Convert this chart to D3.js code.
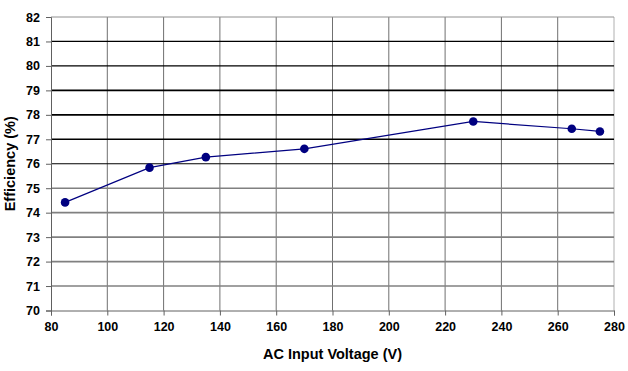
<!DOCTYPE html>
<html>
<head>
  <script src="https://d3js.org/d3.v7.min.js"></script>
  <style>
    body { margin: 0; background: #fff; }
    text { font-family: "Liberation Sans", Arial, sans-serif; font-weight: bold; }
  </style>
</head>
<body>
<script type="text/javascript">
  var voltage = [85, 115, 135, 170, 230, 265, 275];
  var efficiency = [74.42, 75.84, 76.27, 76.61, 77.73, 77.43, 77.32];
  var xTicks = [80, 100, 120, 140, 160, 180, 200, 220, 240, 260, 280];
  var yTicks = [70, 71, 72, 73, 74, 75, 76, 77, 78, 79, 80, 81, 82];

  var w = 628, h = 371;
  var padLeft = 51, padRight = 614, padTop = 17, padBottom = 310.5;

  var svg = d3.select("body").append("svg")
    .attr("width", w)
    .attr("height", h);

  var x = d3.scaleLinear().domain([80, 280]).range([padLeft, padRight]);
  var y = d3.scaleLinear().domain([70, 82]).range([padBottom, padTop]);

  // vertical grid
  svg.selectAll(".vgrid")
    .data(xTicks.slice(1))
    .enter()
    .append("line")
    .attr("x1", function(d){ return x(d); })
    .attr("x2", function(d){ return x(d); })
    .attr("y1", padTop)
    .attr("y2", padBottom)
    .attr("stroke", function(d){ return d == 280 ? "#b0b0b0" : "#707070"; })
    .attr("stroke-width", 1);

  // horizontal grid
  svg.selectAll(".hgrid")
    .data(yTicks.slice(1))
    .enter()
    .append("line")
    .attr("x1", padLeft)
    .attr("x2", padRight)
    .attr("y1", function(d){ return y(d); })
    .attr("y2", function(d){ return y(d); })
    .attr("stroke", function(d){
      if (d == 82) return "#909090";
      return d >= 76 ? "#000" : "#808080";
    })
    .attr("stroke-width", function(d){
      if (d == 82) return 1;
      if (d >= 77 && d <= 79) return 1.6;
      return d >= 76 ? 1.2 : 1.6;
    });

  var xAxis = d3.axisBottom(x).tickValues(xTicks).tickSize(5).tickPadding(7);
  var yAxis = d3.axisLeft(y).tickValues(yTicks).tickSize(5).tickPadding(6);

  var gx = svg.append("g")
    .attr("transform", "translate(0," + padBottom + ")")
    .call(xAxis);
  var gy = svg.append("g")
    .attr("transform", "translate(" + padLeft + ",0)")
    .call(yAxis);

  [gx, gy].forEach(function(g){
    g.select(".domain").attr("stroke", "#606060");
    g.selectAll(".tick line").attr("stroke", "#606060");
    g.selectAll(".tick text")
      .attr("fill", "#000")
      .style("font-size", "12.5px")
      .style("font-family", "'Liberation Sans', Arial, sans-serif")
      .style("font-weight", "bold");
  });

  var line = d3.line()
    .x(function(d, i){ return x(voltage[i]); })
    .y(function(d){ return y(d); });

  svg.append("path")
    .datum(efficiency)
    .attr("d", line)
    .attr("fill", "none")
    .attr("stroke", "#000080")
    .attr("stroke-width", 1.2);

  svg.selectAll("circle")
    .data(efficiency)
    .enter()
    .append("circle")
    .attr("cx", function(d, i){ return x(voltage[i]); })
    .attr("cy", function(d){ return y(d); })
    .attr("r", 4.3)
    .attr("fill", "#000080");

  svg.append("text")
    .attr("x", (padLeft + padRight) / 2)
    .attr("y", 359)
    .attr("text-anchor", "middle")
    .attr("font-size", "14.5px")
    .text("AC Input Voltage (V)");

  svg.append("text")
    .attr("transform", "translate(15," + ((padTop + padBottom) / 2) + ")rotate(-90)")
    .attr("text-anchor", "middle")
    .attr("font-size", "14.5px")
    .text("Efficiency (%)");
</script>
</body>
</html>
